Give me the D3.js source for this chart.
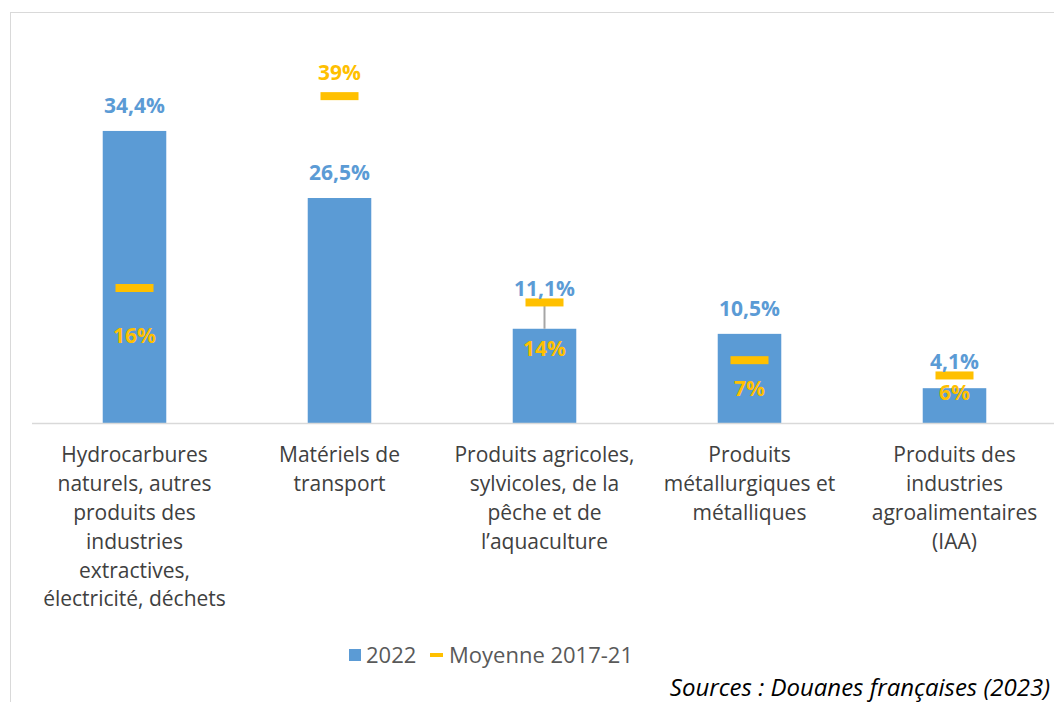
<!DOCTYPE html>
<html>
<head>
<meta charset="utf-8">
<script src="https://cdn.jsdelivr.net/npm/d3@7"></script>
<style>
  body { margin: 0; background: #fff; }
  svg text { font-family: "Open Sans", Lato, sans-serif; }
</style>
</head>
<body>
<div id="vis"></div>
<script>
// Données
const categories = [
  ["Hydrocarbures", "naturels, autres", "produits des", "industries", "extractives,", "électricité, déchets"],
  ["Matériels de", "transport"],
  ["Produits agricoles,", "sylvicoles, de la", "pêche et de", "l’aquaculture"],
  ["Produits", "métallurgiques et", "métalliques"],
  ["Produits des", "industries", "agroalimentaires", "(IAA)"]
];
const values2022 = [34.4, 26.5, 11.1, 10.5, 4.1];
const valuesMoyenne = [15.9, 38.5, 14.2, 7.4, 5.6];
const seriesNames = ["2022", "Moyenne 2017-21"];
const sourceText = "Sources : Douanes françaises (2023)";

// décalage vertical des étiquettes de la moyenne (placées à la main dans l'original)
const avgLabelDy = [48, -23, 46, 28, 17];

const width = 1054;
const height = 702;
const blue = "#5b9bd5";
const gold = "#ffc000";

const svg = d3.select("#vis")
  .append("svg")
  .attr("width", width)
  .attr("height", height);

// cadre du graphique
svg.append("rect")
  .attr("x", 10.5)
  .attr("y", 12.5)
  .attr("width", 1100)
  .attr("height", 760)
  .style("fill", "none")
  .style("stroke", "#d9d9d9");

const x = d3.scaleBand()
  .domain(d3.range(categories.length))
  .range([32, 1057])
  .paddingInner(0.69)
  .paddingOuter(0.345);

const y = d3.scaleLinear()
  .domain([0, 40])
  .range([423, 423 - 40 * 8.49]);

// barres 2022
svg.selectAll("rect.bar")
  .data(values2022)
  .enter()
  .append("rect")
  .attr("class", "bar")
  .attr("x", (_d, i) => x(i))
  .attr("y", d => y(d))
  .attr("width", x.bandwidth())
  .attr("height", d => y(0) - y(d))
  .style("fill", blue);

// axe horizontal
svg.append("line")
  .attr("x1", 32)
  .attr("x2", width)
  .attr("y1", y(0) + 0.5)
  .attr("y2", y(0) + 0.5)
  .style("stroke", "#d9d9d9")
  .style("stroke-width", 1.5);

const cx = i => x(i) + x.bandwidth() / 2;
const markerW = 38, markerH = 8;

// trait gris quand la moyenne dépasse nettement la barre
svg.selectAll("line.drop")
  .data(valuesMoyenne.map((m, i) => ({ m, v: values2022[i], i })).filter(d => d.m - d.v > 2 && d.m < d.v + 6))
  .enter()
  .append("line")
  .attr("class", "drop")
  .attr("x1", d => cx(d.i))
  .attr("x2", d => cx(d.i))
  .attr("y1", d => y(d.m))
  .attr("y2", d => y(d.v))
  .style("stroke", "#a6a6a6")
  .style("stroke-width", 2);

// marqueurs moyenne
svg.selectAll("rect.avg")
  .data(valuesMoyenne)
  .enter()
  .append("rect")
  .attr("class", "avg")
  .attr("x", (_d, i) => cx(i) - markerW / 2)
  .attr("y", d => y(d) - markerH / 2)
  .attr("width", markerW)
  .attr("height", markerH)
  .style("fill", gold);

const fmt = d => d.toFixed(1).replace(".", ",") + "%";

// étiquettes 2022
svg.selectAll("text.val")
  .data(values2022)
  .enter()
  .append("text")
  .attr("class", "val")
  .attr("x", (_d, i) => cx(i))
  .attr("y", (d, i) => {
    const top = y(d);
    const mTop = y(valuesMoyenne[i]) - markerH / 2;
    let c = top - 25;
    if (mTop < top && mTop > top - 40) c = Math.min(c, mTop - 10);
    return c;
  })
  .attr("dy", "0.35em")
  .attr("text-anchor", "middle")
  .style("font-size", "21px")
  .style("font-weight", "bold")
  .style("fill", blue)
  .text(fmt);

// étiquettes moyenne
svg.selectAll("text.avgval")
  .data(valuesMoyenne)
  .enter()
  .append("text")
  .attr("class", "avgval")
  .attr("x", (_d, i) => cx(i))
  .attr("y", (d, i) => y(d) + avgLabelDy[i])
  .attr("dy", "0.35em")
  .attr("text-anchor", "middle")
  .style("font-size", "21px")
  .style("font-weight", "bold")
  .style("fill", gold)
  .text(d => Math.round(d) + "%");

// libellés des catégories
const catG = svg.selectAll("text.cat")
  .data(categories)
  .enter()
  .append("text")
  .attr("class", "cat")
  .attr("text-anchor", "middle")
  .style("font-size", "21px")
  .style("fill", "#404040");

catG.selectAll("tspan")
  .data((d, i) => d.map(t => ({ t, i })))
  .enter()
  .append("tspan")
  .attr("x", d => cx(d.i))
  .attr("y", (_d, j) => 455 + j * 28.8)
  .attr("dy", "0.35em")
  .text(d => d.t);

// légende
const leg = svg.append("g").attr("transform", "translate(349,655)");
leg.append("rect")
  .attr("x", 0).attr("y", -6)
  .attr("width", 12).attr("height", 12)
  .style("fill", blue);
leg.append("text")
  .attr("x", 17).attr("y", 0).attr("dy", "0.35em")
  .style("font-size", "22px").style("fill", "#595959")
  .text(seriesNames[0]);
leg.append("rect")
  .attr("x", 81).attr("y", -2)
  .attr("width", 13).attr("height", 4)
  .style("fill", gold);
leg.append("text")
  .attr("x", 100).attr("y", 0).attr("dy", "0.35em")
  .style("font-size", "22px").style("fill", "#595959")
  .text(seriesNames[1]);

// source
svg.append("text")
  .attr("x", 1050)
  .attr("y", 688)
  .attr("dy", "0.35em")
  .attr("text-anchor", "end")
  .style("font-size", "24px")
  .style("font-style", "italic")
  .style("fill", "#000")
  .text(sourceText);
</script>
</body>
</html>
